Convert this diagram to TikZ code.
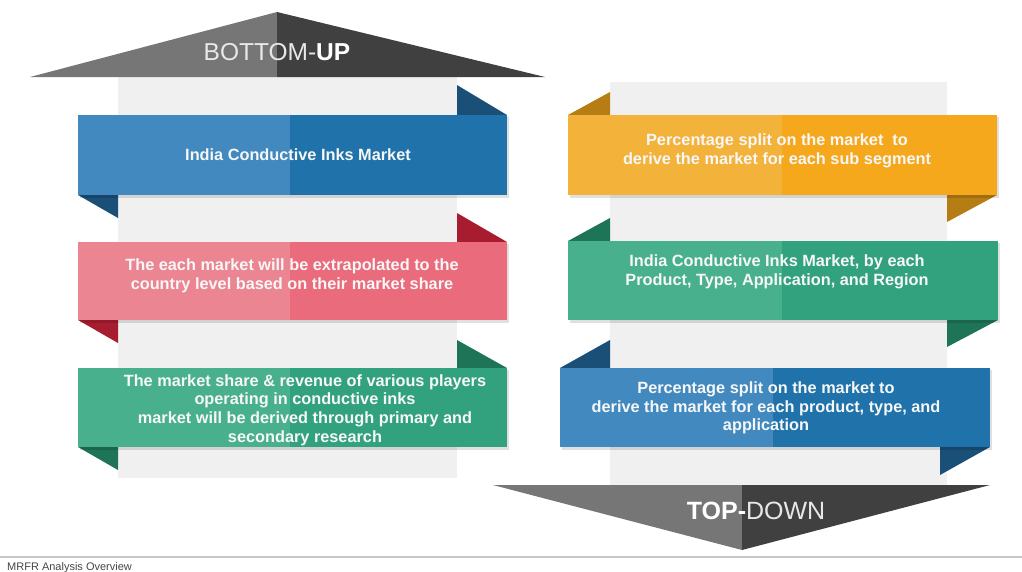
\documentclass[tikz,border=0pt]{standalone}
\usepackage{fontspec}
\setmainfont{Liberation Sans}
\definecolor{colbg}{HTML}{F0F0F0}
\definecolor{arrL}{HTML}{767676}
\definecolor{arrR}{HTML}{404040}
\definecolor{bluL}{HTML}{4189BF}
\definecolor{bluD}{HTML}{1F72AA}
\definecolor{bluF}{HTML}{1A4F78}
\definecolor{pnkL}{HTML}{EB8591}
\definecolor{pnkD}{HTML}{EA6B7C}
\definecolor{pnkF}{HTML}{A81C2F}
\definecolor{grnL}{HTML}{48B08D}
\definecolor{grnD}{HTML}{32A27E}
\definecolor{grnF}{HTML}{1E7456}
\definecolor{orgL}{HTML}{F3B23A}
\definecolor{orgD}{HTML}{F6A81C}
\definecolor{orgF}{HTML}{B67D14}
\definecolor{txtW}{HTML}{F7F7F7}
\begin{document}
\begin{tikzpicture}[x=1pt,y=-1pt,
  boxtext/.style={text=txtW,font=\bfseries\fontsize{16.3}{18.6}\selectfont,align=center,inner sep=0pt},
  shadowfill/.style={fill=black,opacity=0.12}]
\useasboundingbox (0,0) rectangle (1022,571);
% ---------- backgrounds
\fill[colbg] (118,77) rectangle (457,478);
\fill[colbg] (610,82) rectangle (947,485);
% ---------- BOTTOM-UP arrow
\fill[arrL] (30,77) -- (277,12) -- (277,77) -- cycle;
\fill[arrR] (277,12) -- (545,77) -- (277,77) -- cycle;
\node[inner sep=0pt,font=\fontsize{24.5}{26}\selectfont] (bu) at (277,52)
  {\textcolor[HTML]{E8E8E8}{BOTTOM-}\textcolor{white}{\bfseries UP}};
% ---------- TOP-DOWN arrow
\fill[arrL] (493,485) -- (742,485) -- (742,550) -- cycle;
\fill[arrR] (742,485) -- (990,485) -- (742,550) -- cycle;
\node[inner sep=0pt,font=\fontsize{25}{27}\selectfont] (td) at (756,511)
  {\textcolor{white}{\bfseries TOP-}\textcolor[HTML]{E8E8E8}{DOWN}};
% ---------- left ribbons
% B1
\fill[bluF] (457,85) -- (507,115) -- (457,115) -- cycle;
\fill[bluF] (78,195) -- (118,195) -- (118,218) -- cycle;
\fill[shadowfill] (80,117) rectangle (509,198);
\fill[bluL] (78,115) rectangle (290,195);
\fill[bluD] (290,115) rectangle (507,195);
\node[boxtext] (b1) at (298,155) {India Conductive Inks Market};
% B2
\fill[pnkF] (457,213) -- (507,242) -- (457,242) -- cycle;
\fill[pnkF] (78,320) -- (118,320) -- (118,343) -- cycle;
\fill[shadowfill] (80,244) rectangle (509,323);
\fill[pnkL] (78,242) rectangle (290,320);
\fill[pnkD] (290,242) rectangle (507,320);
\node[boxtext] (b2) at (292,276) {The each market will be extrapolated to the\\country level based on their market share};
% B3
\fill[grnF] (457,340) -- (507,368) -- (457,368) -- cycle;
\fill[grnF] (78,447) -- (118,447) -- (118,470) -- cycle;
\fill[shadowfill] (80,370) rectangle (509,450);
\fill[grnL] (78,368) rectangle (290,447);
\fill[grnD] (290,368) rectangle (507,447);
\node[boxtext] (b3) at (305,410) {The market share \& revenue of various players\\operating in conductive inks\\market will be derived through primary and\\secondary research};
% ---------- right ribbons
% R1
\fill[orgF] (568,115) -- (610,92) -- (610,115) -- cycle;
\fill[orgF] (947,195) -- (997,195) -- (947,222) -- cycle;
\fill[shadowfill] (570,117) rectangle (999,198);
\fill[orgL] (568,115) rectangle (782,195);
\fill[orgD] (782,115) rectangle (997,195);
\node[boxtext] (r1) at (777,151) {Percentage split on the market\ \ to\\derive the market for each sub segment};
% R2
\fill[grnF] (568,241) -- (610,218) -- (610,241) -- cycle;
\fill[grnF] (947,320) -- (998,320) -- (947,347) -- cycle;
\fill[shadowfill] (570,243) rectangle (1000,323);
\fill[grnL] (568,241) rectangle (782,320);
\fill[grnD] (782,241) rectangle (998,320);
\node[boxtext] (r2) at (777,272) {India Conductive Inks Market, by each\\Product, Type, Application, and Region};
% R3
\fill[bluF] (560,368) -- (610,340) -- (610,368) -- cycle;
\fill[bluF] (940,447) -- (990,447) -- (940,475) -- cycle;
\fill[shadowfill] (562,370) rectangle (992,450);
\fill[bluL] (560,368) rectangle (773,447);
\fill[bluD] (773,368) rectangle (990,447);
\node[boxtext] (r3) at (766,408) {Percentage split on the market to\\derive the market for each product, type, and\\application};
% ---------- footer
\draw[color={rgb,255:red,200;green,200;blue,200},line width=1.5pt] (0,557) -- (1022,557);
\node[anchor=base west,inner sep=0pt,text={rgb,255:red,70;green,70;blue,70},font=\fontsize{11}{12}\selectfont] (ft) at (7,570) {MRFR Analysis Overview};
\end{tikzpicture}
\end{document}
